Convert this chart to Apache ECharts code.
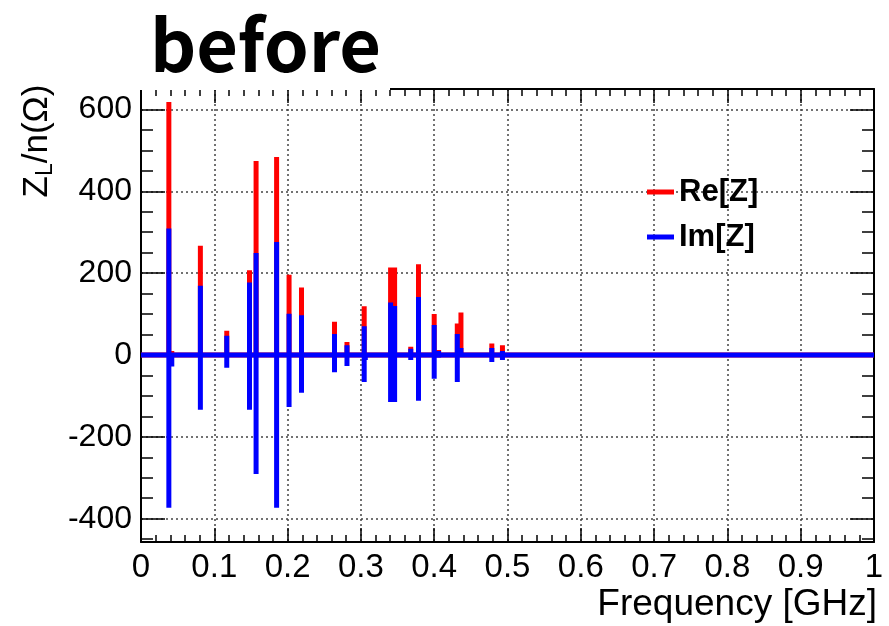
<!DOCTYPE html>
<html><head><meta charset="utf-8">
<script src="https://cdn.jsdelivr.net/npm/echarts@6/dist/echarts.min.js"></script>
<style>html,body{margin:0;padding:0;background:#fff}#c{width:889px;height:626px}</style>
</head><body><div id="c"></div>
<script>
// Resonance frequencies (GHz) and impedance components Z_L/n (Ohm)
const freqGHz = [0.038, 0.042, 0.081, 0.117, 0.148, 0.157, 0.185, 0.202, 0.219, 0.264, 0.281, 0.3045, 0.306, 0.3405, 0.346, 0.368, 0.3786, 0.400, 0.406, 0.4315, 0.4365, 0.4786, 0.4931];
const reZ    = [618, 10, 267, 59, 207, 474, 484, 196, 165, 81, 32, 119, 0, 214, 214, 20, 222, 100, 12, 77, 104, 28, 24];
const imZPos = [309, 0, 169, 47, 177, 249, 276, 101, 97, 51, 24, 70, 0, 128, 120, 15, 142, 73, 10, 51, 17, 17, 10];
const imZNeg = [-373, -28, -134, -31, -134, -291, -373, -127, -92, -42, -27, -66, -12, -115, -115, -12, -112, -58, -7, -66, 0, -17, -12];
const yMajorTicks = [-400, -200, 0, 200, 400, 600];
const yMinorTicks = [-450, -350, -300, -250, -150, -100, -50, 50, 100, 150, 250, 300, 350, 450, 500, 550, 650];
const xRange = [0, 1];
const yRange = [-457, 650];

const reData = [[xRange[0], 0]];
const imData = [[xRange[0], 0]];
freqGHz.forEach((f, i) => {
  reData.push([f, 0], [f, reZ[i]], [f, 0]);
  imData.push([f, 0], [f, imZPos[i]], [f, imZNeg[i]], [f, 0]);
});
reData.push([xRange[1], 0]);
imData.push([xRange[1], 0]);

const FONT = 'Liberation Sans';
const gridRect = {left: 141, right: 15, top: 89, bottom: 84};
const black = '#000';
const dotted = {show: true, lineStyle: {color: '#444', width: 1.5, type: [2, 3]}};

function xAx(pos, labels, split) {
  return {
    type: 'value', gridIndex: 0, position: pos, min: xRange[0], max: xRange[1], interval: 0.1,
    axisLine: {show: true, onZero: false, lineStyle: {color: black, width: 2}},
    axisTick: {show: true, inside: true, length: 14, lineStyle: {color: black, width: 1.5}},
    minorTick: {show: true, splitNumber: 5, length: 7, lineStyle: {color: black, width: 1.5}},
    axisLabel: {show: labels, fontSize: 33, fontFamily: FONT, color: black, margin: 9,
      formatter: v => String(parseFloat(v.toFixed(2)))},
    splitLine: split ? dotted : {show: false}
  };
}
function yAx(grid, pos, ticks, len, labels, split) {
  return {
    type: 'value', gridIndex: grid, position: pos, min: yRange[0], max: yRange[1],
    axisLine: {show: grid === 0, onZero: false, lineStyle: {color: black, width: 2}},
    axisTick: {show: true, inside: true, length: len, customValues: ticks, lineStyle: {color: black, width: 1.5}},
    axisLabel: {show: labels, customValues: ticks, fontSize: 32, fontFamily: FONT, color: black, margin: 9},
    splitLine: split ? dotted : {show: false}
  };
}

const chart = echarts.init(document.getElementById('c'), null, {renderer: 'canvas'});
chart.setOption({
  animation: false,
  backgroundColor: '#fff',
  grid: [Object.assign({}, gridRect), Object.assign({}, gridRect)],
  xAxis: [
    xAx('bottom', true, true),
    xAx('top', false, false),
    {type: 'value', gridIndex: 1, min: xRange[0], max: xRange[1], show: false}
  ],
  yAxis: [
    yAx(0, 'left', yMajorTicks, 24, true, true),
    yAx(0, 'right', yMajorTicks, 24, false, false),
    yAx(1, 'left', yMinorTicks, 12, false, false),
    yAx(1, 'right', yMinorTicks, 12, false, false)
  ],
  legend: {
    orient: 'vertical', left: 647, top: 176, padding: 0, itemWidth: 27, itemHeight: 5, itemGap: 13,
    data: [{name: 'Re[Z]', icon: 'rect'}, {name: 'Im[Z]', icon: 'rect'}],
    textStyle: {fontSize: 31, fontWeight: 'bold', fontFamily: FONT, color: black, lineHeight: 32}
  },
  series: [
    {name: 'Re[Z]', type: 'line', xAxisIndex: 0, yAxisIndex: 0, data: reData, color: '#ff0000',
     symbol: 'none', showSymbol: false, lineStyle: {width: 5, color: '#ff0000'}, z: 3},
    {name: 'Im[Z]', type: 'line', xAxisIndex: 0, yAxisIndex: 0, data: imData, color: '#0000ff',
     symbol: 'none', showSymbol: false, lineStyle: {width: 5, color: '#0000ff'}, z: 4}
  ],
  graphic: [
    {type: 'rect', z: 100, shape: {x: 138, y: 0, width: 252, height: 90}, style: {fill: '#fff'}},
    {type: 'text', z: 101, x: 150, y: 45, style: {text: 'before', fontSize: 72, fontWeight: 'bold',
      fontFamily: 'Noto Sans CJK JP', fill: black, align: 'left', verticalAlign: 'middle'}},
    {type: 'text', z: 101, x: 877, y: 605, style: {text: 'Frequency [GHz]', fontSize: 37,
      fontFamily: FONT, fill: black, align: 'right', verticalAlign: 'middle'}},
    {type: 'text', z: 101, x: 37, y: 141, rotation: Math.PI / 2, style: {
      text: '{a|Z}{s|L}{a|/n(Ω)}', align: 'center', verticalAlign: 'middle', fill: black,
      rich: {
        a: {fontSize: 35, fontFamily: FONT, fill: black, lineHeight: 35, verticalAlign: 'top'},
        s: {fontSize: 23, fontFamily: FONT, fill: black, lineHeight: 23, verticalAlign: 'top', padding: [15, 0, 0, 0]}
      }}}
  ]
});
</script></body></html>
